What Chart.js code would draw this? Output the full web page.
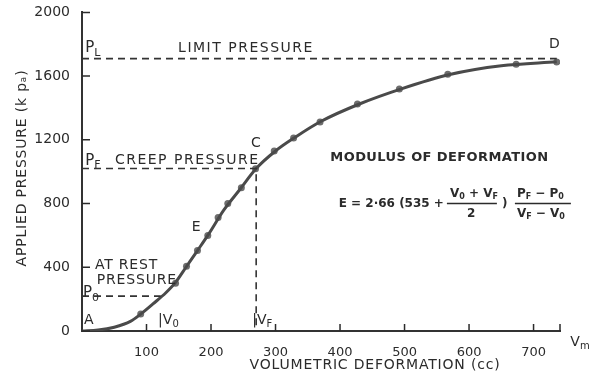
<!DOCTYPE html>
<html>
<head>
<meta charset="utf-8">
<script src="https://cdn.jsdelivr.net/npm/chart.js@4"></script>
<style>
  html, body { margin: 0; padding: 0; background: #fff; }
  #wrap { width: 594px; height: 379px; position: relative; }
</style>
</head>
<body>
<div id="wrap"><canvas id="chart"></canvas></div>
<script>
// volumetric deformation (cc) vs applied pressure (kPa)
const curveX = [0, 25, 50, 75, 91, 110, 130, 145, 162, 179, 195, 220, 245, 270, 300, 330, 370, 430, 495, 570, 650, 736];
const curveY = [0, 6, 24, 60, 106, 170, 240, 305, 405, 505, 600, 760, 890, 1020, 1130, 1215, 1315, 1425, 1520, 1610, 1665, 1690];
const testX = [91, 145, 162, 179, 195, 211, 226, 247, 269, 298, 328, 369, 427, 492, 567, 673, 736];
const testY = [106, 300, 406, 506, 600, 713, 800, 900, 1019, 1130, 1212, 1312, 1425, 1519, 1612, 1675, 1688];
const limitPressure = 1710;
const creepPressure = 1020;
const restPressure = 219;
const vF = 270;
const v0 = 122;
const vD = 736;
const xTicks = [100, 200, 300, 400, 500, 600, 700];
const yTicks = [0, 400, 800, 1200, 1600, 2000];

const ink = '#2b2b2b';
const pts = (xs, ys) => xs.map((x, i) => ({ x, y: ys[i] }));

function dashed(data) {
  return {
    data, showLine: true, pointRadius: 0, borderColor: '#333',
    borderWidth: 1.6, borderDash: [7, 5], fill: false,
  };
}

function sub(ctx, main, s, x, y, size, bold) {
  const w = bold ? 'bold ' : '';
  ctx.font = w + size + 'px "DejaVu Sans"';
  ctx.fillText(main, x, y);
  const mw = ctx.measureText(main).width;
  ctx.font = w + Math.round(size * 0.7) + 'px "DejaVu Sans"';
  ctx.fillText(s, x + mw, y + size * 0.3);
  return x + mw + ctx.measureText(s).width;
}

const notes = {
  id: 'notes',
  afterDraw(chart) {
    const { ctx, scales: { x, y } } = chart;
    const X = (v) => x.getPixelForValue(v);
    const Y = (v) => y.getPixelForValue(v);
    ctx.save();
    ctx.fillStyle = ink;
    ctx.strokeStyle = ink;
    ctx.textBaseline = 'middle';
    ctx.textAlign = 'left';

    // inward tick marks
    ctx.lineWidth = 1.5;
    ctx.beginPath();
    yTicks.forEach((v) => { ctx.moveTo(x.left, Y(v)); ctx.lineTo(x.left + 8, Y(v)); });
    xTicks.forEach((v) => { ctx.moveTo(X(v), y.bottom); ctx.lineTo(X(v), y.bottom - 7); });
    ctx.moveTo(x.right, y.bottom); ctx.lineTo(x.right, y.bottom - 7);
    ctx.stroke();

    sub(ctx, 'P', 'L', X(5), Y(1775), 15);
    sub(ctx, 'P', 'F', X(5), Y(1069), 15);
    sub(ctx, 'P', '0', X(1.5), Y(237), 15);
    sub(ctx, '|V', '0', X(118), Y(69), 14);
    sub(ctx, '|V', 'F', X(264), Y(69), 14);
    sub(ctx, 'V', 'm', X(757), Y(-69), 14);
    ctx.font = '14px "DejaVu Sans"';
    ctx.fillText('D', X(724), Y(1800));
    ctx.fillText('C', X(262), Y(1181));
    ctx.fillText('E', X(170), Y(650));
    ctx.fillText('A', X(3), Y(69));
    ctx.letterSpacing = '1.5px';
    ctx.fillText('LIMIT PRESSURE', X(149), Y(1775));
    ctx.fillText('CREEP PRESSURE', X(51), Y(1069));
    ctx.letterSpacing = '0.8px';
    ctx.fillText('AT REST', X(20), Y(412));
    ctx.fillText('PRESSURE', X(23), Y(319));

    ctx.letterSpacing = '0.4px';
    ctx.font = 'bold 13px "DejaVu Sans"';
    ctx.fillText('MODULUS OF DEFORMATION', X(385), Y(1088));
    ctx.letterSpacing = '0px';

    // formula
    const fy = Y(800);
    ctx.font = 'bold 12px "DejaVu Sans"';
    ctx.fillText('E = 2·66 (535 +', X(398), fy);
    let fx = X(398) + ctx.measureText('E = 2·66 (535 +').width + 3;
    ctx.lineWidth = 1.4;
    ctx.beginPath(); ctx.moveTo(fx, fy); ctx.lineTo(fx + 50, fy); ctx.stroke();
    let e = sub(ctx, 'V', '0', fx + 3, fy - 10, 12, true);
    ctx.font = 'bold 12px "DejaVu Sans"';
    ctx.fillText(' + ', e, fy - 10);
    e += ctx.measureText(' + ').width;
    sub(ctx, 'V', 'F', e, fy - 10, 12, true);
    ctx.font = 'bold 12px "DejaVu Sans"';
    ctx.fillText('2', fx + 20, fy + 10);
    ctx.fillText(')', fx + 55, fy);
    const gx = fx + 68;
    ctx.beginPath(); ctx.moveTo(gx, fy); ctx.lineTo(gx + 56, fy); ctx.stroke();
    e = sub(ctx, 'P', 'F', gx + 2, fy - 10, 12, true);
    ctx.font = 'bold 12px "DejaVu Sans"';
    ctx.fillText(' − ', e, fy - 10);
    e += ctx.measureText(' − ').width;
    sub(ctx, 'P', '0', e, fy - 10, 12, true);
    e = sub(ctx, 'V', 'F', gx + 2, fy + 10, 12, true);
    ctx.font = 'bold 12px "DejaVu Sans"';
    ctx.fillText(' − ', e, fy + 10);
    e += ctx.measureText(' − ').width;
    sub(ctx, 'V', '0', e, fy + 10, 12, true);

    // axis titles
    ctx.font = '14px "DejaVu Sans"';
    ctx.letterSpacing = '0.8px';
    ctx.textAlign = 'center';
    ctx.fillText('VOLUMETRIC DEFORMATION (cc)', 375, 365);
    ctx.translate(22, 168);
    ctx.rotate(-Math.PI / 2);
    ctx.fillText('APPLIED PRESSURE (k pₐ)', 0, 0);
    ctx.restore();
  },
};

new Chart(document.getElementById('chart'), {
  type: 'scatter',
  data: {
    datasets: [
      dashed([{ x: 0, y: limitPressure }, { x: vD, y: limitPressure }]),
      dashed([{ x: 0, y: creepPressure }, { x: vF, y: creepPressure }, { x: vF, y: 0 }]),
      dashed([{ x: 0, y: restPressure }, { x: v0, y: restPressure }]),
      {
        data: pts(curveX, curveY), showLine: true, pointRadius: 0,
        borderColor: '#4a4a4a', borderWidth: 3, cubicInterpolationMode: 'monotone',
      },
      {
        data: pts(testX, testY), pointRadius: 3.5, pointBackgroundColor: '#6e6e6e',
        pointBorderWidth: 0,
      },
    ],
  },
  options: {
    responsive: true,
    maintainAspectRatio: false,
    animation: false,
    layout: { padding: { top: 11, right: 34, left: 0, bottom: 0 } },
    plugins: { legend: { display: false }, tooltip: { enabled: false } },
    scales: {
      x: {
        type: 'linear', min: 0, max: 741,
        afterBuildTicks: (s) => { s.ticks = xTicks.map((v) => ({ value: v })); },
        afterFit: (s) => { s.height = 48; },
        grid: { display: false },
        border: { display: true, color: '#333', width: 2 },
        ticks: { color: ink, padding: 6, callback: (v) => String(v), font: { family: 'DejaVu Sans', size: 13 } },
      },
      y: {
        type: 'linear', min: 0, max: 2000,
        afterBuildTicks: (s) => { s.ticks = yTicks.map((v) => ({ value: v })); },
        afterFit: (s) => { s.width = 82; },
        grid: { display: false },
        border: { display: true, color: '#333', width: 2 },
        ticks: { color: ink, padding: 4, callback: (v) => String(v), font: { family: 'DejaVu Sans', size: 14 } },
      },
    },
  },
  plugins: [notes],
});
</script>
</body>
</html>
